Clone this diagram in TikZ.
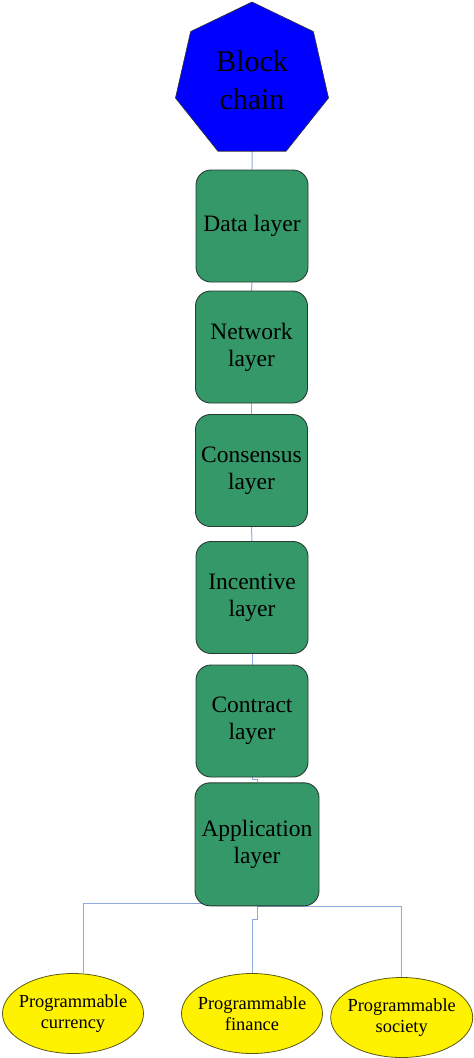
\documentclass[tikz,border=0pt]{standalone}
\usepackage{fontspec}
\setmainfont{Liberation Serif}
\usetikzlibrary{shapes.geometric,backgrounds}
\definecolor{layergreen}{RGB}{52,152,104}
\definecolor{layeredge}{RGB}{40,60,48}
\definecolor{connblue}{RGB}{143,170,220}
\definecolor{elledge}{RGB}{90,90,20}
\tikzset{
  layerbox/.style={draw=layeredge, line width=0.9pt, fill=layergreen, rounded corners=15pt,
    minimum width=112pt, minimum height=112pt, inner sep=0pt, align=center,
    font=\fontsize{23.5}{27}\selectfont},
  topgon/.style={draw=black!80, line width=0.6pt, fill=blue, regular polygon, regular polygon sides=7,
    minimum size=157pt, inner sep=0pt, outer sep=0pt, align=center,
    font=\fontsize{30}{38}\selectfont},
  appell/.style={draw=elledge, line width=0.8pt, fill=yellow, ellipse, inner xsep=-4.5pt, inner ysep=0pt,
    align=center, font=\fontsize{18.4}{21}\selectfont},
  conn/.style={draw=connblue, line width=1pt}
}
\begin{document}
\begin{tikzpicture}[x=1pt,y=-1pt]
\useasboundingbox (0,0) rectangle (474,1058);
\node[topgon] (bc) at (252,80.5) {Block\\chain};
\node[layerbox] (data) at (252,226) {Data layer};
\node[layerbox] (net) at (251.5,347) {Network\\layer};
\node[layerbox] (cons) at (251.5,470.5) {Consensus\\layer};
\node[layerbox] (inc) at (252,597.5) {Incentive\\layer};
\node[layerbox] (contr) at (252,721) {Contract\\layer};
\node[layerbox, minimum width=124pt, minimum height=123pt] (app) at (257,844.3) {Application\\layer};
\node[appell, minimum width=141pt, minimum height=80pt] (cur) at (73,1013.5) {Programmable\\currency};
\node[appell, minimum width=141pt, minimum height=80pt] (fin) at (252,1013.5) {Programmable\\finance};
\node[appell, minimum width=142pt, minimum height=80pt] (soc) at (401.7,1017.5) {Programmable\\society};
\begin{scope}[on background layer]
\draw[conn] (bc.south) -- (data.north);
\draw[conn] (data.south) -- (net.north);
\draw[conn] (net.south) -- (cons.north);
\draw[conn] (cons.south) -- (inc.north);
\draw[conn] (inc.south) -- (contr.north);
\draw[conn] (contr.south) -- ++(0,2.5) -| (app.north);
\draw[conn] (app.south) -- ++(0,-3) -| ([xshift=10pt]cur.north);
\draw[conn] (app.south) -- ++(0,13.6) -| (fin.north);
\draw[conn] (app.south) -| (soc.north);
\end{scope}
\end{tikzpicture}
\end{document}
